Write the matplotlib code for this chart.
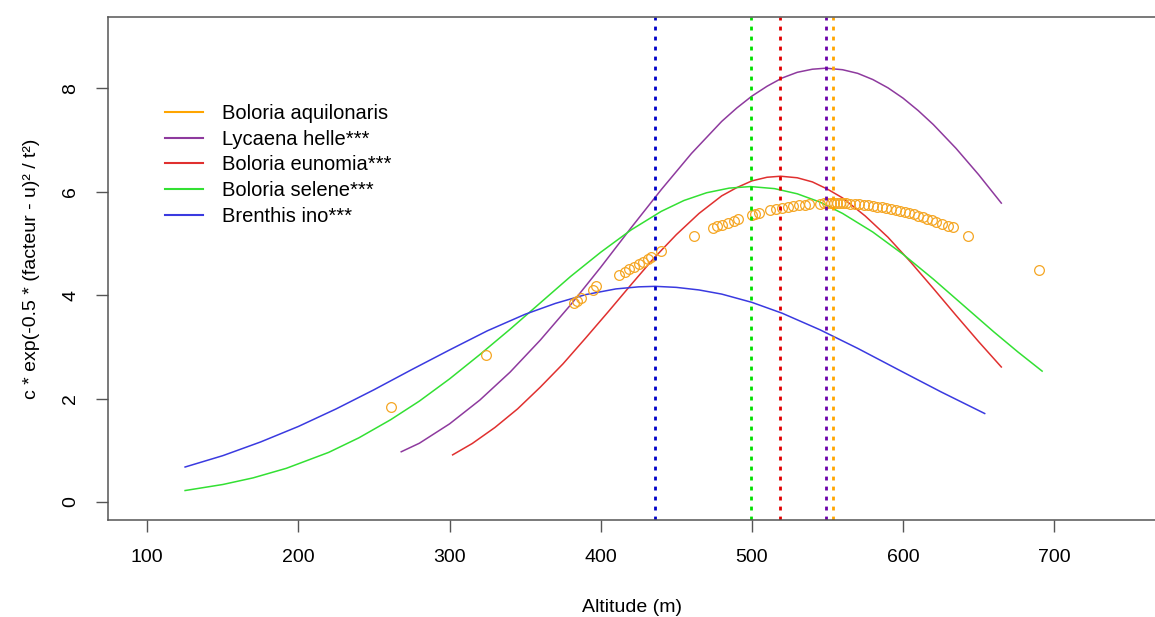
import numpy as np
import matplotlib
matplotlib.use("Agg")
import matplotlib.pyplot as plt

plt.rcParams['font.family'] = ['Liberation Sans', 'DejaVu Sans']

# species labels and colours (legend order)
species = ["Boloria aquilonaris", "Lycaena helle***", "Boloria eunomia***",
           "Boloria selene***", "Brenthis ino***"]
line_cols = ["#FFA500", "#8E3A9E", "#E0302F", "#33E033", "#3A3AE0"]
vline_cols = ["#FFA500", "#6A00A8", "#E00000", "#00E000", "#0000C8"]

# optimum altitude (u) for each species, same order
optima = [553.9, 548.9, 518.7, 499.3, 436.2]

# Boloria aquilonaris : observations (points)
aqu_x = [261, 324, 382, 384, 387, 395, 397, 412, 416, 419, 422, 425, 428, 431, 433,
         440, 462, 474, 477, 480, 484, 488, 491, 500, 502, 505, 512, 516, 520, 524,
         527, 531, 535, 538, 545, 548, 550, 552, 554, 556, 558, 560, 562, 565, 568,
         571, 574, 577, 580, 583, 586, 589, 592, 595, 598, 601, 604, 607, 610, 613,
         616, 619, 622, 626, 630, 633, 643, 690]
aqu_y = [1.83, 2.84, 3.85, 3.89, 3.94, 4.09, 4.17, 4.38, 4.45, 4.50, 4.55, 4.60, 4.65,
         4.70, 4.73, 4.85, 5.15, 5.29, 5.33, 5.36, 5.40, 5.44, 5.47, 5.55, 5.57, 5.59,
         5.64, 5.67, 5.69, 5.71, 5.72, 5.74, 5.75, 5.76, 5.77, 5.78, 5.78, 5.78, 5.78,
         5.78, 5.78, 5.78, 5.78, 5.77, 5.76, 5.76, 5.75, 5.74, 5.73, 5.71, 5.70, 5.68,
         5.67, 5.65, 5.63, 5.61, 5.59, 5.56, 5.54, 5.51, 5.48, 5.45, 5.42, 5.38, 5.34,
         5.31, 5.15, 4.48]

# Lycaena helle
hel_x = [268, 280, 300, 320, 340, 360, 380, 400, 420, 440, 460, 480, 490, 500, 510,
         520, 530, 540, 549, 560, 570, 580, 590, 600, 610, 620, 635, 650, 665]
hel_y = [0.97, 1.135, 1.51, 1.97, 2.51, 3.13, 3.81, 4.54, 5.30, 6.04, 6.74, 7.36, 7.62,
         7.85, 8.04, 8.20, 8.31, 8.37, 8.39, 8.36, 8.29, 8.17, 8.01, 7.81, 7.57, 7.30,
         6.84, 6.33, 5.78]

# Boloria eunomia
eun_x = [302, 315, 330, 345, 360, 375, 390, 405, 420, 435, 450, 465, 480, 490, 500,
         510, 519, 530, 540, 550, 560, 575, 590, 605, 620, 635, 650, 665]
eun_y = [0.91, 1.13, 1.44, 1.80, 2.22, 2.67, 3.17, 3.68, 4.20, 4.71, 5.17, 5.58, 5.92,
         6.08, 6.21, 6.28, 6.30, 6.27, 6.19, 6.05, 5.88, 5.53, 5.12, 4.64, 4.13, 3.61,
         3.10, 2.61]

# Boloria selene
sel_x = [125, 150, 170, 192, 220, 240, 261, 280, 300, 320, 340, 360, 380, 400, 420,
         440, 455, 470, 485, 499, 515, 530, 545, 560, 580, 600, 620, 640, 660, 676, 692]
sel_y = [0.22, 0.337, 0.465, 0.65, 0.958, 1.24, 1.59, 1.95, 2.38, 2.85, 3.34, 3.85,
         4.36, 4.83, 5.26, 5.62, 5.83, 5.98, 6.07, 6.10, 6.06, 5.96, 5.80, 5.58, 5.22,
         4.79, 4.31, 3.80, 3.29, 2.90, 2.53]

# Brenthis ino
ino_x = [125, 150, 175, 200, 225, 250, 275, 300, 325, 350, 370, 390, 410, 425, 436,
         450, 465, 480, 500, 520, 545, 570, 600, 625, 654]
ino_y = [0.675, 0.895, 1.16, 1.46, 1.80, 2.17, 2.56, 2.94, 3.31, 3.63, 3.84, 4.01,
         4.12, 4.16, 4.17, 4.15, 4.10, 4.02, 3.86, 3.65, 3.33, 2.97, 2.51, 2.13, 1.71]

x_ticks = [100, 200, 300, 400, 500, 600, 700]
y_ticks = [0, 2, 4, 6, 8]

W, H = 1155, 617
fig = plt.figure(figsize=(W / 100, H / 100), dpi=100)
ax = fig.add_axes([108 / W, 1 - 520 / H, (1157 - 108) / W, (520 - 17) / H])

frame_col = "#555555"
fs = 14

# fitted curves
ax.plot(hel_x, hel_y, color=line_cols[1], lw=1.1)
ax.plot(eun_x, eun_y, color=line_cols[2], lw=1.1)
ax.plot(sel_x, sel_y, color=line_cols[3], lw=1.1)
ax.plot(ino_x, ino_y, color=line_cols[4], lw=1.1)

# observed points
ax.plot(aqu_x, aqu_y, 'o', mfc='none', mec="#F5A623", ms=7, mew=0.9)

# optimum lines
for u, c in zip(optima, vline_cols):
    ax.axvline(u, color=c, lw=2, linestyle=(0, (1.4, 2.2)))

ax.set_xlim(74, 768)
ax.set_ylim(-0.35, 9.38)
ax.set_xticks(x_ticks)
ax.set_yticks(y_ticks)
ax.tick_params(axis='both', direction='out', length=8.6, width=1, color=frame_col,
               labelsize=fs, pad=12)
for lab in ax.get_yticklabels():
    lab.set_rotation(90)
    lab.set_va('center')
for s in ax.spines.values():
    s.set_color(frame_col)
    s.set_linewidth(1.1)

ax.set_xlabel("Altitude (m)", fontsize=fs, labelpad=24)
ax.set_ylabel("c * exp(-0.5 * (facteur - u)² / t²)", fontsize=fs, labelpad=16)

# legend
handles = [plt.Line2D([], [], color=c, lw=1.5) for c in line_cols]
ax.legend(handles, species, loc='upper left', frameon=False, fontsize=14.5,
          bbox_to_anchor=(165 / W, 1 - 104 / H), bbox_transform=fig.transFigure,
          borderpad=0, borderaxespad=0, handlelength=1.9, handletextpad=0.95,
          labelspacing=0.33)

fig.savefig("out.png", dpi=100)
